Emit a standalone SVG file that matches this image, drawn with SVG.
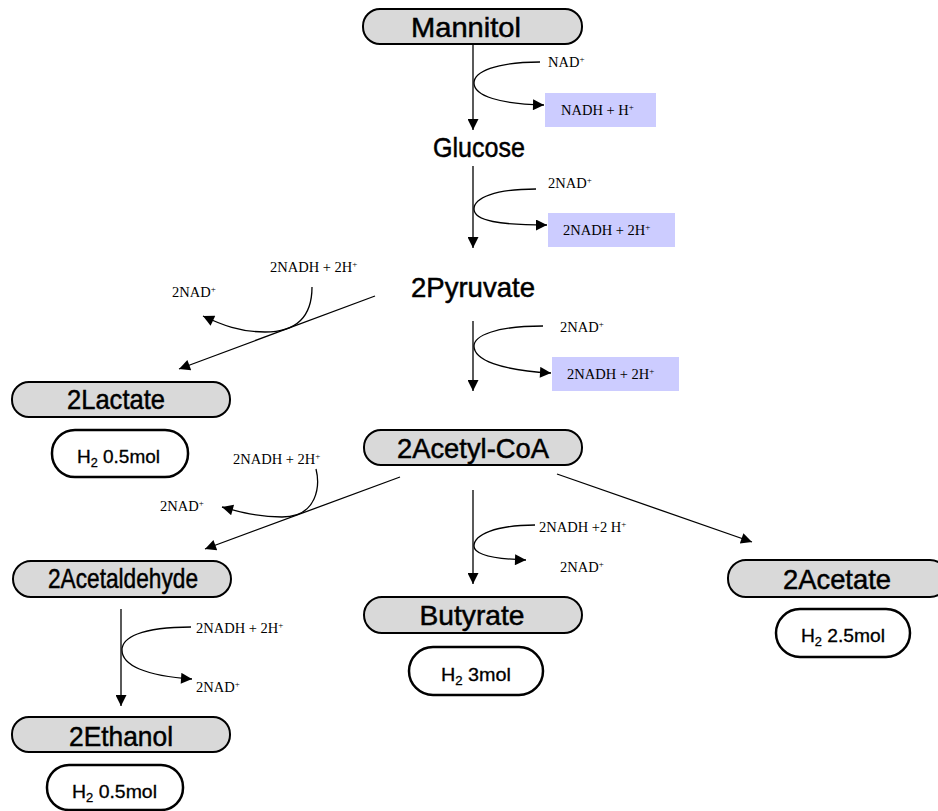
<svg xmlns="http://www.w3.org/2000/svg" width="938" height="811" viewBox="0 0 938 811">
<defs>
<marker id="ah" viewBox="0 0 10 10" refX="10" refY="5" markerWidth="13" markerHeight="11" markerUnits="userSpaceOnUse" orient="auto"><path d="M0,0 L10,5 L0,10 z" fill="#000"/></marker>
<style>
.node{fill:#d9d9d9;stroke:#000;stroke-width:2}
.h2{fill:#fff;stroke:#000;stroke-width:2.5}
.lbl{font-family:"Liberation Sans",Arial,sans-serif;font-size:28px;fill:#000;text-anchor:middle;stroke:#000;stroke-width:0.5}
.h2t{font-family:"Liberation Sans",Arial,sans-serif;font-size:18px;fill:#000;stroke:#000;stroke-width:0.3}
.sm{font-family:"Liberation Serif","Times New Roman",serif;font-size:14.5px;fill:#000}
.sup{font-size:9px}
.blue{fill:#ccccff}
.ln{fill:none;stroke:#000;stroke-width:1.3}
</style>
</defs>
<g id="connectors">
<line class="ln" x1="473" y1="44" x2="473" y2="130" marker-end="url(#ah)"/>
<path class="ln" d="M540,62 C495,62 474,72 474,83 C474,96 500,104 544,105" marker-end="url(#ah)"/>
<line class="ln" x1="473" y1="166" x2="473" y2="248" marker-end="url(#ah)"/>
<path class="ln" d="M536,189 C495,189 474,198 474,209 C474,221 500,225 547,225" marker-end="url(#ah)"/>
<line class="ln" x1="375" y1="296" x2="179" y2="369" marker-end="url(#ah)"/>
<path class="ln" d="M312,287 C312,310 303,332 265,332 C240,332 222,325 203,316" marker-end="url(#ah)"/>
<line class="ln" x1="473" y1="321" x2="473" y2="391" marker-end="url(#ah)"/>
<path class="ln" d="M543,326 C495,326 474,336 474,346 C474,360 500,370 551,373" marker-end="url(#ah)"/>
<line class="ln" x1="400" y1="477" x2="205" y2="549" marker-end="url(#ah)"/>
<path class="ln" d="M316,469 C320,485 318,517 282,517 C258,517 240,512 222,507" marker-end="url(#ah)"/>
<line class="ln" x1="473" y1="490" x2="473" y2="584" marker-end="url(#ah)"/>
<path class="ln" d="M535,525 C495,525 474,535 474,546 C474,555 495,559 526,560" marker-end="url(#ah)"/>
<line class="ln" x1="557" y1="474" x2="752" y2="542" marker-end="url(#ah)"/>
<line class="ln" x1="121" y1="609" x2="121" y2="706" marker-end="url(#ah)"/>
<path class="ln" d="M191,627 C140,627 122,638 122,650 C122,665 145,676 192,679" marker-end="url(#ah)"/>
</g>
<g id="cofactors">
<text class="sm" x="548" y="67">NAD<tspan class="sup" dy="-5">+</tspan></text>
<rect class="blue" x="545" y="93" width="111" height="34"/>
<text class="sm" x="561" y="115">NADH + H<tspan class="sup" dy="-5">+</tspan></text>
<text class="sm" x="548" y="188">2NAD<tspan class="sup" dy="-5">+</tspan></text>
<rect class="blue" x="548" y="213" width="127" height="34"/>
<text class="sm" x="563" y="235">2NADH + 2H<tspan class="sup" dy="-5">+</tspan></text>
<text class="sm" x="270" y="272">2NADH + 2H<tspan class="sup" dy="-5">+</tspan></text>
<text class="sm" x="172" y="297">2NAD<tspan class="sup" dy="-5">+</tspan></text>
<text class="sm" x="560" y="332">2NAD<tspan class="sup" dy="-5">+</tspan></text>
<rect class="blue" x="552" y="357" width="127" height="34"/>
<text class="sm" x="567" y="379">2NADH + 2H<tspan class="sup" dy="-5">+</tspan></text>
<text class="sm" x="233" y="464">2NADH + 2H<tspan class="sup" dy="-5">+</tspan></text>
<text class="sm" x="160" y="511">2NAD<tspan class="sup" dy="-5">+</tspan></text>
<text class="sm" x="539" y="532">2NADH +2 H<tspan class="sup" dy="-5">+</tspan></text>
<text class="sm" x="560" y="572">2NAD<tspan class="sup" dy="-5">+</tspan></text>
<text class="sm" x="196" y="633">2NADH + 2H<tspan class="sup" dy="-5">+</tspan></text>
<text class="sm" x="196" y="692">2NAD<tspan class="sup" dy="-5">+</tspan></text>
</g>
<g id="mannitol">
<rect class="node" x="363" y="9" width="219" height="35" rx="17"/>
<text class="lbl" x="466" y="37" font-size="29" textLength="110" lengthAdjust="spacingAndGlyphs">Mannitol</text>
</g>
<g id="glucose">
<text class="lbl" x="479" y="157" textLength="92" lengthAdjust="spacingAndGlyphs">Glucose</text>
</g>
<g id="pyruvate">
<text class="lbl" x="473" y="297" textLength="124" lengthAdjust="spacingAndGlyphs">2Pyruvate</text>
</g>
<g id="lactate">
<rect class="node" x="12" y="382" width="218" height="35" rx="17"/>
<text class="lbl" x="116" y="409" textLength="98" lengthAdjust="spacingAndGlyphs">2Lactate</text>
</g>
<g id="h2-lactate">
<rect class="h2" x="52" y="430" width="136" height="47" rx="23"/>
<text class="h2t" x="77" y="463" textLength="83" lengthAdjust="spacingAndGlyphs">H<tspan font-size="12" dy="4">2</tspan><tspan dy="-4"> 0.5mol</tspan></text>
</g>
<g id="acetylcoa">
<rect class="node" x="364" y="430" width="218" height="35" rx="17"/>
<text class="lbl" x="473" y="458" textLength="152" lengthAdjust="spacingAndGlyphs">2Acetyl-CoA</text>
</g>
<g id="acetaldehyde">
<rect class="node" x="13" y="561" width="218" height="36" rx="18"/>
<text class="lbl" x="123" y="588" font-size="23" textLength="150" lengthAdjust="spacingAndGlyphs">2Acetaldehyde</text>
</g>
<g id="butyrate">
<rect class="node" x="364" y="597" width="218" height="36" rx="18"/>
<text class="lbl" x="472" y="625" textLength="105" lengthAdjust="spacingAndGlyphs">Butyrate</text>
</g>
<g id="h2-butyrate">
<rect class="h2" x="409" y="647" width="134" height="48" rx="24"/>
<text class="h2t" x="441" y="681" textLength="70" lengthAdjust="spacingAndGlyphs">H<tspan font-size="12" dy="4">2</tspan><tspan dy="-4"> 3mol</tspan></text>
</g>
<g id="acetate">
<rect class="node" x="728" y="560" width="220" height="37" rx="18"/>
<text class="lbl" x="837" y="589" textLength="108" lengthAdjust="spacingAndGlyphs">2Acetate</text>
</g>
<g id="h2-acetate">
<rect class="h2" x="776" y="609" width="134" height="48" rx="24"/>
<text class="h2t" x="801" y="642" textLength="84" lengthAdjust="spacingAndGlyphs">H<tspan font-size="12" dy="4">2</tspan><tspan dy="-4"> 2.5mol</tspan></text>
</g>
<g id="ethanol">
<rect class="node" x="12" y="717" width="218" height="35" rx="17"/>
<text class="lbl" x="121" y="746" textLength="104" lengthAdjust="spacingAndGlyphs">2Ethanol</text>
</g>
<g id="h2-ethanol">
<rect class="h2" x="47" y="765" width="136" height="45" rx="22"/>
<text class="h2t" x="72" y="798" textLength="85" lengthAdjust="spacingAndGlyphs">H<tspan font-size="12" dy="4">2</tspan><tspan dy="-4"> 0.5mol</tspan></text>
</g>
</svg>
